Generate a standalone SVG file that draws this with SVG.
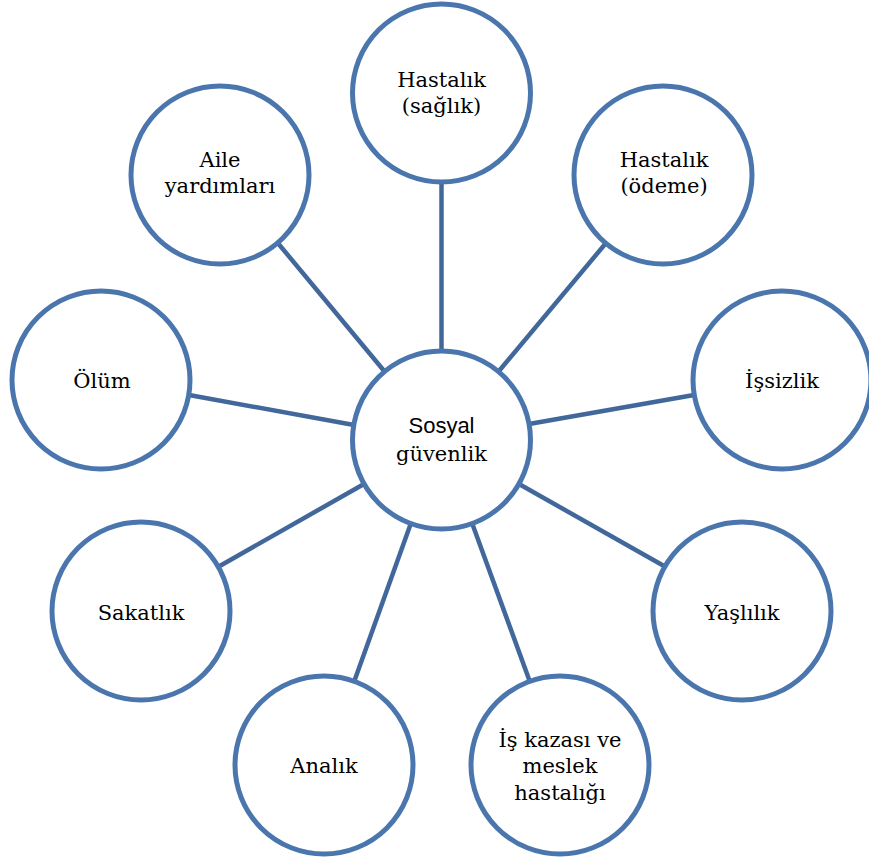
<svg xmlns="http://www.w3.org/2000/svg" width="869" height="863" viewBox="0 0 869 863">
<style>
.node circle{fill:#fff;stroke:#4a76ad;stroke-width:5}
#connectors line{stroke:#41679b;stroke-width:4.5}
.t{font-family:"DejaVu Serif","Liberation Serif",serif;font-size:21px;fill:#000;text-anchor:middle}
.s{font-family:"Liberation Sans",Arial,sans-serif;font-size:22px;fill:#000;text-anchor:middle}
</style>
<rect width="869" height="863" fill="#fff"/>
<g id="connectors">
<line x1="441.5" y1="351" x2="441.5" y2="182"/>
<line x1="499" y1="371" x2="606" y2="243"/>
<line x1="529" y1="424" x2="694" y2="395"/>
<line x1="519" y1="484" x2="664" y2="566"/>
<line x1="472" y1="523" x2="530" y2="682"/>
<line x1="411" y1="523" x2="354" y2="682"/>
<line x1="364" y1="484" x2="218" y2="567"/>
<line x1="354" y1="425" x2="189" y2="395"/>
<line x1="385" y1="372" x2="277" y2="242"/>
</g>
<g id="n-sosyal" class="node"><circle cx="441.5" cy="440" r="89"/><text class="s" x="441.5" y="433">Sosyal</text><text class="t" x="441.5" y="461">güvenlik</text></g>
<g id="n-saglik" class="node"><circle cx="441.5" cy="93" r="89"/><text class="t" x="441.5" y="87">Hastalık</text><text class="t" x="441.5" y="113">(sağlık)</text></g>
<g id="n-odeme" class="node"><circle cx="663" cy="175" r="89"/><text class="t" x="664" y="167">Hastalık</text><text class="t" x="664" y="193">(ödeme)</text></g>
<g id="n-issizlik" class="node"><circle cx="782" cy="380" r="89"/><text class="t" x="782" y="388">İşsizlik</text></g>
<g id="n-yaslilik" class="node"><circle cx="742" cy="611" r="89"/><text class="t" x="742" y="620">Yaşlılık</text></g>
<g id="n-iskazasi" class="node"><circle cx="560" cy="765" r="89"/><text class="t" x="560" y="747">İş kazası ve</text><text class="t" x="560" y="773">meslek</text><text class="t" x="560" y="800">hastalığı</text></g>
<g id="n-analik" class="node"><circle cx="324" cy="765" r="89"/><text class="t" x="324" y="773">Analık</text></g>
<g id="n-sakatlik" class="node"><circle cx="141" cy="611" r="89"/><text class="t" x="141" y="620">Sakatlık</text></g>
<g id="n-olum" class="node"><circle cx="101" cy="380" r="89"/><text class="t" x="102" y="388">Ölüm</text></g>
<g id="n-aile" class="node"><circle cx="220" cy="175" r="89"/><text class="t" x="220" y="167">Aile</text><text class="t" x="220" y="193">yardımları</text></g>
</svg>
